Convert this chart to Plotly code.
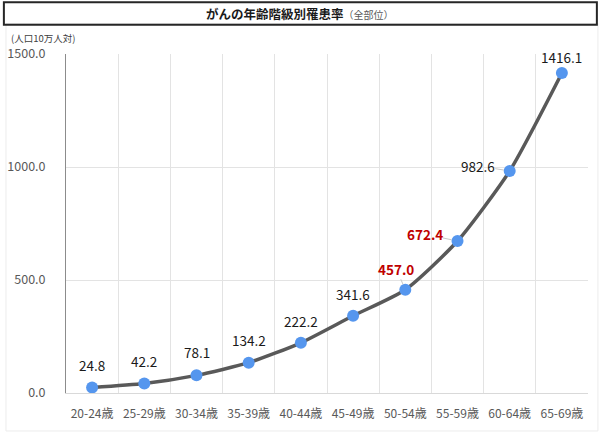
import plotly.graph_objects as go

age_groups = ["20-24歳", "25-29歳", "30-34歳", "35-39歳", "40-44歳",
              "45-49歳", "50-54歳", "55-59歳", "60-64歳", "65-69歳"]
rates = [24.8, 42.2, 78.1, 134.2, 222.2, 341.6, 457.0, 672.4, 982.6, 1416.1]
highlight = [False, False, False, False, False, False, True, True, False, False]

# label offsets in px and leader lines (style only)
label_dx = [0, 0, 0, 0, 0, 0, -9, -33, -32, 0]
label_dy = [22, 22, 23, 23, 22, 22, 21, 7, 5, 16]
leader = [False, False, False, False, False, False, True, True, True, False]

font = "Noto Sans CJK JP"

fig = go.Figure()
fig.add_trace(go.Scatter(
    x=age_groups, y=rates, mode="lines+markers",
    line=dict(color="#595959", width=3.5, shape="spline", smoothing=0.6),
    marker=dict(color="#5596EE", size=12),
    hoverinfo="x+y", showlegend=False,
))

for i, (cat, v) in enumerate(zip(age_groups, rates)):
    if highlight[i]:
        txt = "<b>%.1f</b>" % v
        col = "#C00000"
    else:
        txt = "%.1f" % v
        col = "#1a1a1a"
    fnt = dict(family=font, size=13.5, color=col)
    if leader[i]:
        fig.add_annotation(x=cat, y=v, text=txt, showarrow=True,
                           ax=label_dx[i], ay=-label_dy[i], arrowhead=0,
                           arrowwidth=1, arrowcolor="#c8c8c8", standoff=6,
                           borderpad=0, font=fnt)
    else:
        fig.add_annotation(x=cat, y=v, text=txt, showarrow=False,
                           xshift=label_dx[i], yshift=label_dy[i], font=fnt)

# outer light frame and title box
fig.add_shape(type="rect", xref="paper", yref="paper",
              x0=-0.115, x1=1.019, y0=-0.112, y1=1.09,
              line=dict(color="#ececec", width=1), layer="below")
fig.add_shape(type="rect", xref="paper", yref="paper",
              x0=-0.119, x1=1.017, y0=1.086, y1=1.153,
              line=dict(color="#262626", width=2), layer="above")

fig.add_annotation(xref="paper", yref="paper", x=0.448, y=1.119,
                   xanchor="center", yanchor="middle",
                   text="<b>がんの年齢階級別罹患率</b><span style='font-size:10px;color:#595959'>（全部位）</span>",
                   showarrow=False, font=dict(family=font, size=12.5, color="#1a1a1a"))
fig.add_annotation(xref="paper", yref="paper", x=-0.109, y=1.047,
                   xanchor="left", yanchor="middle",
                   text="(人口10万人対)", showarrow=False,
                   font=dict(family=font, size=9.5, color="#404040"))

fig.update_layout(
    width=600, height=436,
    margin=dict(l=66, r=12, t=54, b=43),
    paper_bgcolor="white", plot_bgcolor="white",
    font=dict(family=font),
)
fig.update_xaxes(
    type="category", range=[-0.5, len(age_groups) - 0.5],
    showgrid=True, gridcolor="#e3e3e3", gridwidth=1,
    tickson="boundaries", ticks="", showline=True, linecolor="#d9d9d9",
    tickfont=dict(family=font, size=12, color="#595959"),
    tickangle=0, automargin=False, ticklabelstandoff=10,
)
fig.update_yaxes(
    range=[0, 1500], dtick=500, tickformat=".1f",
    showgrid=True, gridcolor="#e3e3e3", zeroline=False,
    showline=True, linecolor="#8c8c8c", linewidth=1,
    tickfont=dict(family=font, size=12.5, color="#595959"),
    ticklabelstandoff=17, automargin=False,
)

fig.write_html("out.html", config={"displayModeBar": False},
               post_script="document.body.style.margin='0';")
